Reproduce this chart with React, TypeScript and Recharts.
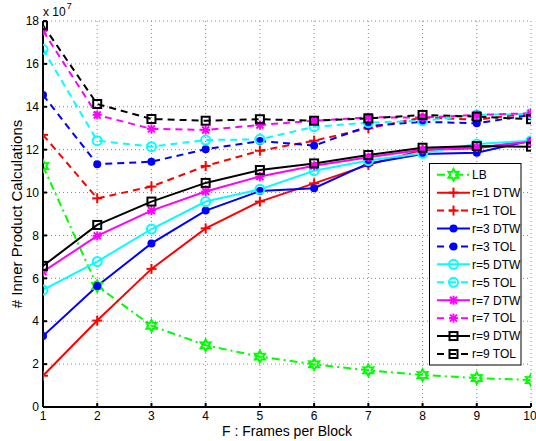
import React from 'react';
import { LineChart, Line, XAxis, YAxis, CartesianGrid } from 'recharts';

const frames = [1, 2, 3, 4, 5, 6, 7, 8, 9, 10];
const yTicks = [0, 2, 4, 6, 8, 10, 12, 14, 16, 18];
// values in units of 1e7
const lb = [11.24, 5.64, 3.79, 2.88, 2.35, 1.99, 1.71, 1.49, 1.35, 1.26];
const r1Dtw = [1.46, 4.03, 6.44, 8.33, 9.58, 10.43, 11.29, 11.99, 12.07, 12.4];
const r1Tol = [12.69, 9.73, 10.28, 11.24, 11.95, 12.42, 13.0, 13.5, 13.4, 13.7];
const r3Dtw = [3.31, 5.64, 7.63, 9.16, 10.07, 10.2, 11.36, 11.8, 11.86, 12.42];
const r3Tol = [14.55, 11.32, 11.44, 12.02, 12.4, 12.19, 13.1, 13.3, 13.23, 13.62];
const r5Dtw = [5.46, 6.78, 8.3, 9.58, 10.15, 11.02, 11.49, 11.83, 12.27, 12.42];
const r5Tol = [16.68, 12.42, 12.14, 12.45, 12.48, 13.07, 13.26, 13.35, 13.62, 13.67];
const r7Dtw = [6.31, 7.98, 9.16, 10.05, 10.75, 11.25, 11.65, 12.0, 12.1, 12.37];
const r7Tol = [17.54, 13.62, 12.97, 12.92, 13.15, 13.35, 13.51, 13.5, 13.62, 13.7];
const r9Dtw = [6.58, 8.49, 9.58, 10.45, 11.05, 11.36, 11.75, 12.09, 12.17, 12.14];
const r9Tol = [17.8, 14.13, 13.43, 13.35, 13.42, 13.35, 13.46, 13.62, 13.54, 13.42];

type Marker = 'hex' | 'plus' | 'dot' | 'circle' | 'star' | 'square';

const seriesDefs: { key: string; name: string; values: number[]; color: string; dash?: string; marker: Marker }[] = [
  { key: 'lb', name: 'LB', values: lb, color: '#00ff00', dash: '8 4 2 4', marker: 'hex' },
  { key: 'r1d', name: 'r=1 DTW', values: r1Dtw, color: '#ff0000', marker: 'plus' },
  { key: 'r1t', name: 'r=1 TOL', values: r1Tol, color: '#ff0000', dash: '7 5', marker: 'plus' },
  { key: 'r3d', name: 'r=3 DTW', values: r3Dtw, color: '#0000ff', marker: 'dot' },
  { key: 'r3t', name: 'r=3 TOL', values: r3Tol, color: '#0000ff', dash: '7 5', marker: 'dot' },
  { key: 'r5d', name: 'r=5 DTW', values: r5Dtw, color: '#00ffff', marker: 'circle' },
  { key: 'r5t', name: 'r=5 TOL', values: r5Tol, color: '#00ffff', dash: '7 5', marker: 'circle' },
  { key: 'r7d', name: 'r=7 DTW', values: r7Dtw, color: '#ff00ff', marker: 'star' },
  { key: 'r7t', name: 'r=7 TOL', values: r7Tol, color: '#ff00ff', dash: '7 5', marker: 'star' },
  { key: 'r9d', name: 'r=9 DTW', values: r9Dtw, color: '#000000', marker: 'square' },
  { key: 'r9t', name: 'r=9 TOL', values: r9Tol, color: '#000000', dash: '7 5', marker: 'square' },
];

const data = frames.map((f, i) => {
  const row: Record<string, number> = { f };
  seriesDefs.forEach((s) => {
    row[s.key] = s.values[i];
  });
  return row;
});

const FONT = '"Liberation Sans", Arial, Helvetica, sans-serif';

function drawMarker(m: Marker, cx: number, cy: number, color: string, key?: string) {
  switch (m) {
    case 'hex': {
      const pts: string[] = [];
      for (let i = 0; i < 12; i++) {
        const r = i % 2 === 0 ? 5.8 : 3.2;
        const a = (Math.PI / 6) * i - Math.PI / 2;
        pts.push(`${cx + r * Math.cos(a)},${cy + r * Math.sin(a)}`);
      }
      return <polygon key={key} points={pts.join(' ')} fill="none" stroke={color} strokeWidth={2} />;
    }
    case 'plus':
      return (
        <g key={key} stroke={color} strokeWidth={2}>
          <line x1={cx - 5} y1={cy} x2={cx + 5} y2={cy} />
          <line x1={cx} y1={cy - 5} x2={cx} y2={cy + 5} />
        </g>
      );
    case 'dot':
      return <circle key={key} cx={cx} cy={cy} r={4} fill={color} stroke="none" />;
    case 'circle':
      return <circle key={key} cx={cx} cy={cy} r={4.5} fill="none" stroke={color} strokeWidth={2} />;
    case 'star':
      return (
        <g key={key} stroke={color} strokeWidth={2}>
          <line x1={cx - 4.5} y1={cy} x2={cx + 4.5} y2={cy} />
          <line x1={cx} y1={cy - 4.5} x2={cx} y2={cy + 4.5} />
          <line x1={cx - 3.5} y1={cy - 3.5} x2={cx + 3.5} y2={cy + 3.5} />
          <line x1={cx - 3.5} y1={cy + 3.5} x2={cx + 3.5} y2={cy - 3.5} />
        </g>
      );
    case 'square':
      return <rect key={key} x={cx - 4} y={cy - 4} width={8} height={8} fill="none" stroke={color} strokeWidth={2} />;
  }
  return null;
}

const makeDot = (m: Marker, color: string) => (props: any) => {
  const { cx, cy, index } = props;
  if (cx == null || cy == null) return <g key={`d-${index}`} />;
  return drawMarker(m, cx, cy, color, `d-${m}-${index}`);
};

const LegendBox = () => {
  const rowH = 17.93;
  return (
    <svg width={93} height={203} style={{ display: 'block' }}>
      <rect x={0.5} y={0.5} width={91.5} height={201.5} fill="#ffffff" stroke="#000000" strokeWidth={1} />
      {seriesDefs.map((s, i) => {
        const y = 11.7 + i * rowH;
        return (
          <g key={s.key}>
            <line x1={8} y1={y} x2={41} y2={y} stroke={s.color} strokeWidth={2} strokeDasharray={s.dash} />
            {drawMarker(s.marker, 24.5, y, s.color)}
            <text x={43} y={y + 4.3} fontFamily={FONT} fontSize={12} fill="#000">
              {s.name}
            </text>
          </g>
        );
      })}
    </svg>
  );
};

const ExpLabel = () => (
  <text x={43} y={16} fontFamily={FONT} fontSize={12} fill="#000">
    x 10
    <tspan dx={1} dy={-7} fontSize={9}>7</tspan>
  </text>
);

export default function App() {
  return (
    <div style={{ position: 'absolute', left: 0, top: 0, width: 536, height: 441, background: '#fff' }}>
      <LineChart width={536} height={441} data={data} margin={{ top: 21, right: 5, bottom: 0, left: 13 }}>
        <CartesianGrid stroke="#888" strokeDasharray="1 3" strokeWidth={1} />
        <XAxis
          dataKey="f"
          type="number"
          domain={[1, 10]}
          ticks={frames}
          allowDataOverflow
          stroke="#000"
          strokeWidth={2}
          tick={{ fill: '#000', fontSize: 12, fontFamily: FONT }}
          tickSize={-4}
          tickMargin={8}
          height={34}
          label={{ value: 'F : Frames per Block', position: 'insideBottom', offset: 5, fill: '#000', fontSize: 14, fontFamily: FONT }}
        />
        <XAxis xAxisId="top" orientation="top" dataKey="f" type="number" domain={[1, 10]} ticks={frames} tick={false} tickSize={-4} stroke="#000" strokeWidth={1} height={0} />
        <YAxis
          type="number"
          domain={[0, 18]}
          ticks={yTicks}
          allowDataOverflow
          stroke="#000"
          strokeWidth={2}
          tick={{ fill: '#000', fontSize: 12, fontFamily: FONT }}
          tickSize={-4}
          tickMargin={8}
          width={30}
          label={{ content: <ExpLabel /> }}
        />
        <YAxis yAxisId="right" orientation="right" type="number" domain={[0, 18]} ticks={yTicks} tick={false} tickSize={-4} stroke="#000" strokeWidth={1} width={0} />
        {seriesDefs.map((s) => (
          <Line
            key={s.key}
            dataKey={s.key}
            name={s.name}
            stroke={s.color}
            strokeWidth={2}
            strokeDasharray={s.dash}
            dot={makeDot(s.marker, s.color)}
            activeDot={false}
            isAnimationActive={false}
            type="linear"
          />
        ))}
      </LineChart>
      <div style={{ position: 'absolute', left: 429, top: 163 }}>
        <LegendBox />
      </div>
      <div
        style={{
          position: 'absolute',
          left: 16,
          top: 214,
          transform: 'translate(-50%, -50%) rotate(-90deg)',
          whiteSpace: 'nowrap',
          fontFamily: FONT,
          fontSize: 15,
          color: '#000',
        }}
      >
        # Inner Product Calculations
      </div>
    </div>
  );
}
